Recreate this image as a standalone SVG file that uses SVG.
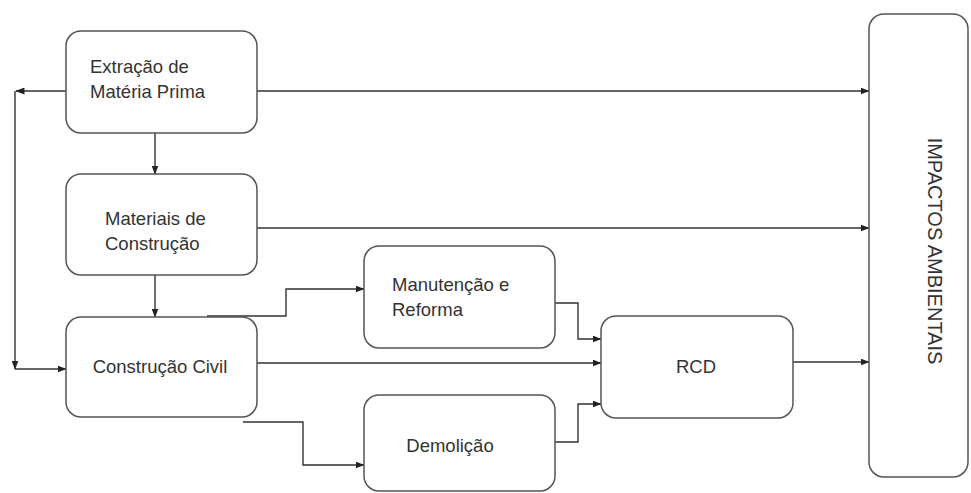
<svg xmlns="http://www.w3.org/2000/svg" width="971" height="493" viewBox="0 0 971 493">
<defs>
<style>
.box{fill:#fff;stroke:#555;stroke-width:1.5}
.t{font-family:"Liberation Sans",Arial,sans-serif;font-size:18.5px;fill:#333}
.c{fill:none;stroke:#333;stroke-width:1.4}
</style>
<marker id="ah" markerWidth="9" markerHeight="7" refX="8.5" refY="3.5" orient="auto" markerUnits="userSpaceOnUse">
<path d="M0,0 L9,3.5 L0,7 z" fill="#222"/>
</marker>
</defs>
<rect width="971" height="493" fill="#fff"/>
<g id="connectors">
<path class="c" d="M66,91 H16" marker-end="url(#ah)"/>
<path class="c" d="M15,91 V369" marker-end="url(#ah)"/>
<path class="c" d="M15,369 H66" marker-end="url(#ah)"/>
<path class="c" d="M257,91 H869" marker-end="url(#ah)"/>
<path class="c" d="M155,133 V174" marker-end="url(#ah)"/>
<path class="c" d="M257,228 H869" marker-end="url(#ah)"/>
<path class="c" d="M155,275 V317" marker-end="url(#ah)"/>
<path class="c" d="M207,316 H286 V289 H364" marker-end="url(#ah)"/>
<path class="c" d="M257,363 H601" marker-end="url(#ah)"/>
<path class="c" d="M243,422 H303 V465 H364" marker-end="url(#ah)"/>
<path class="c" d="M555,303 H578 V339 H601" marker-end="url(#ah)"/>
<path class="c" d="M555,442 H578 V404 H601" marker-end="url(#ah)"/>
<path class="c" d="M793,362 H869" marker-end="url(#ah)"/>
</g>
<g id="extracao">
<rect class="box" x="66" y="31" width="191" height="102" rx="15"/>
<text class="t" x="90" y="73">Extração de</text>
<text class="t" x="90" y="98">Matéria Prima</text>
</g>
<g id="materiais">
<rect class="box" x="66" y="174" width="191" height="101" rx="15"/>
<text class="t" x="105" y="225">Materiais de</text>
<text class="t" x="105" y="250">Construção</text>
</g>
<g id="construcao">
<rect class="box" x="66" y="317" width="191" height="100" rx="15"/>
<text class="t" x="160" y="373" text-anchor="middle">Construção Civil</text>
</g>
<g id="manutencao">
<rect class="box" x="364" y="246" width="191" height="102" rx="15"/>
<text class="t" x="392" y="291">Manutenção e</text>
<text class="t" x="392" y="316">Reforma</text>
</g>
<g id="demolicao">
<rect class="box" x="364" y="395" width="191" height="96" rx="15"/>
<text class="t" x="450" y="452" text-anchor="middle">Demolição</text>
</g>
<g id="rcd">
<rect class="box" x="601" y="316" width="192" height="102" rx="15"/>
<text class="t" x="696" y="373" text-anchor="middle">RCD</text>
</g>
<g id="impactos">
<rect class="box" x="869" y="14" width="99" height="463" rx="15"/>
<text class="t" transform="translate(928,251) rotate(90)" text-anchor="middle" style="font-size:20px">IMPACTOS AMBIENTAIS</text>
</g>
</svg>
